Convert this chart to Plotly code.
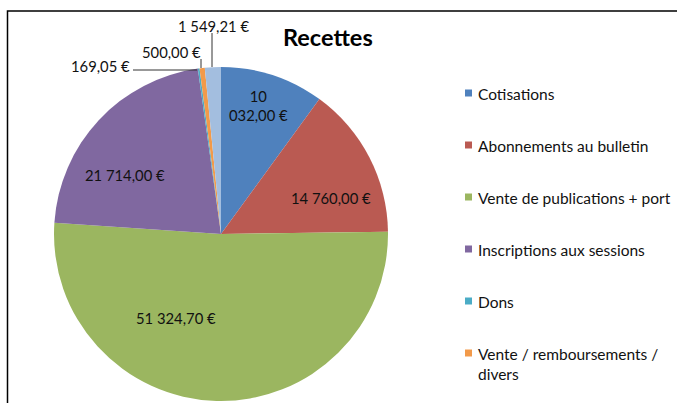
import plotly.graph_objects as go

W, H = 677, 403

categories = [
    "Cotisations",
    "Abonnements au bulletin",
    "Vente de publications + port",
    "Inscriptions aux sessions",
    "Dons",
    "Vente / remboursements / divers",
    "Autres",
]
values = [10032.00, 14760.00, 51324.70, 21714.00, 169.05, 500.00, 1549.21]
colors = ["#4F81BD", "#BA5A52", "#9BB660", "#8068A0", "#4BACC6", "#F29A4A", "#A3BEDF"]
legend_labels = [
    "Cotisations",
    "Abonnements au bulletin",
    "Vente de publications + port",
    "Inscriptions aux sessions",
    "Dons",
    "Vente / remboursements /<br>divers",
]

FONT = "Lato, 'Open Sans', sans-serif"


def fr(v):
    return f"{v:,.2f}".replace(",", " ").replace(".", ",") + " €"


def px(x, y):
    return x / W, 1 - y / H


fig = go.Figure()

cx, cy, r = 221, 234, 167
x0, _ = px(cx - r, 0)
x1, _ = px(cx + r, 0)
_, y1 = px(0, cy - r)
_, y0 = px(0, cy + r)

fig.add_trace(go.Pie(
    labels=categories,
    values=values,
    sort=False,
    direction="clockwise",
    rotation=0,
    marker=dict(colors=colors, line=dict(width=0)),
    textinfo="none",
    hoverinfo="label+value",
    showlegend=False,
    domain=dict(x=[x0, x1], y=[y0, y1]),
))

annotations = []
shapes = []

# data labels (positions in pixels of the picture)
label_pos = [
    (258, 105, True),
    (331, 198, False),
    (176, 318, False),
    (125, 175, False),
    (100, 66, False),
    (171, 52, False),
    (213, 26, False),
]
for v, (lx, ly, wrap) in zip(values, label_pos):
    t = fr(v)
    if wrap:
        t = t.replace(" ", "<br>", 1)
    ax, ay = px(lx, ly)
    annotations.append(dict(
        x=ax, y=ay, xref="paper", yref="paper", text=t, showarrow=False,
        xanchor="center", yanchor="middle",
        font=dict(family=FONT, size=14.8, color="#111111"),
    ))

# leader lines
leaders = [
    ((133, 70), (197, 70)),
    ((201, 59), (201, 68)),
    ((212, 33), (212, 67)),
]
for (ax0, ay0), (ax1, ay1) in leaders:
    p0 = px(ax0, ay0)
    p1 = px(ax1, ay1)
    shapes.append(dict(type="line", xref="paper", yref="paper",
                       x0=p0[0], y0=p0[1], x1=p1[0], y1=p1[1],
                       line=dict(color="#333333", width=1)))

# title
tx, ty = px(328, 37)
annotations.append(dict(
    x=tx, y=ty, xref="paper", yref="paper", text="<b>Recettes</b>",
    showarrow=False, xanchor="center", yanchor="middle",
    font=dict(family=FONT, size=23.5, color="#000000"),
))

# legend
leg_y = [93, 145, 197, 249, 301, 353]
for lab, col, ly in zip(legend_labels, colors, leg_y):
    s0 = px(465, ly - 3.5)
    s1 = px(472, ly + 3.5)
    shapes.append(dict(type="rect", xref="paper", yref="paper",
                       x0=s0[0], y0=s0[1], x1=s1[0], y1=s1[1],
                       fillcolor=col, line=dict(width=0)))
    lx, lyy = px(476, ly - 10)
    annotations.append(dict(
        x=lx, y=lyy, xref="paper", yref="paper", text=lab, showarrow=False,
        xanchor="left", yanchor="top", align="left",
        font=dict(family=FONT, size=15.5, color="#111111"),
    ))

# chart frame (top and left edges visible)
f0 = px(7.5, 11)
f1 = px(W + 5, H + 5)
shapes.append(dict(type="rect", xref="paper", yref="paper",
                   x0=f0[0], y0=f0[1], x1=f1[0], y1=f1[1],
                   line=dict(color="#000000", width=1.5), fillcolor="rgba(0,0,0,0)"))

fig.update_layout(
    width=W, height=H,
    margin=dict(l=0, r=0, t=0, b=0),
    paper_bgcolor="white",
    plot_bgcolor="white",
    annotations=annotations,
    shapes=shapes,
    showlegend=False,
)

fig.write_html(
    "out.html",
    config={"displayModeBar": False},
    post_script="document.body.style.margin='0';document.body.style.overflow='hidden';",
)
